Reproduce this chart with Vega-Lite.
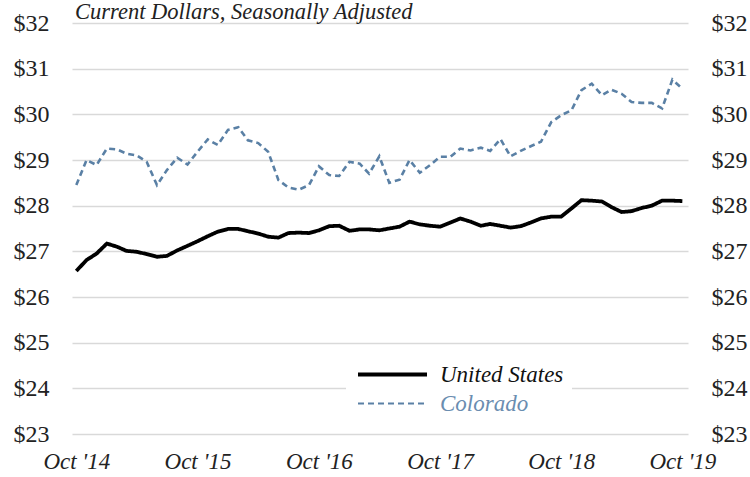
{
  "$schema": "https://vega.github.io/schema/vega-lite/v6.json",
  "width": 616,
  "height": 411,
  "autosize": {"type": "none"},
  "padding": {"left": 72, "top": 23, "right": 62, "bottom": 43},
  "background": "white",
  "title": {
    "text": "Current Dollars, Seasonally Adjusted",
    "anchor": "start",
    "frame": "group",
    "font": "Liberation Serif",
    "fontSize": 22.5,
    "fontStyle": "italic",
    "fontWeight": "normal",
    "color": "#222222",
    "baseline": "alphabetic",
    "offset": 0,
    "dx": 3,
    "dy": 30
  },
  "config": {
    "view": {"stroke": null},
    "axis": {
      "labelFont": "Liberation Serif",
      "labelColor": "#222222",
      "domain": false,
      "ticks": false,
      "title": null
    }
  },
  "data": {
    "values": [
      {"month": "2014-10-01", "United States": 26.57, "Colorado": 28.45},
      {"month": "2014-11-01", "United States": 26.81, "Colorado": 29.0},
      {"month": "2014-12-01", "United States": 26.95, "Colorado": 28.89},
      {"month": "2015-01-01", "United States": 27.17, "Colorado": 29.25},
      {"month": "2015-02-01", "United States": 27.10, "Colorado": 29.23},
      {"month": "2015-03-01", "United States": 27.01, "Colorado": 29.14},
      {"month": "2015-04-01", "United States": 26.99, "Colorado": 29.1},
      {"month": "2015-05-01", "United States": 26.94, "Colorado": 28.96},
      {"month": "2015-06-01", "United States": 26.88, "Colorado": 28.45},
      {"month": "2015-07-01", "United States": 26.90, "Colorado": 28.78},
      {"month": "2015-08-01", "United States": 27.02, "Colorado": 29.05},
      {"month": "2015-09-01", "United States": 27.12, "Colorado": 28.9},
      {"month": "2015-10-01", "United States": 27.22, "Colorado": 29.18},
      {"month": "2015-11-01", "United States": 27.33, "Colorado": 29.45},
      {"month": "2015-12-01", "United States": 27.43, "Colorado": 29.33},
      {"month": "2016-01-01", "United States": 27.49, "Colorado": 29.66},
      {"month": "2016-02-01", "United States": 27.49, "Colorado": 29.72},
      {"month": "2016-03-01", "United States": 27.44, "Colorado": 29.43},
      {"month": "2016-04-01", "United States": 27.39, "Colorado": 29.37},
      {"month": "2016-05-01", "United States": 27.32, "Colorado": 29.18},
      {"month": "2016-06-01", "United States": 27.30, "Colorado": 28.56},
      {"month": "2016-07-01", "United States": 27.40, "Colorado": 28.4},
      {"month": "2016-08-01", "United States": 27.41, "Colorado": 28.35},
      {"month": "2016-09-01", "United States": 27.40, "Colorado": 28.45},
      {"month": "2016-10-01", "United States": 27.46, "Colorado": 28.86},
      {"month": "2016-11-01", "United States": 27.55, "Colorado": 28.67},
      {"month": "2016-12-01", "United States": 27.56, "Colorado": 28.65},
      {"month": "2017-01-01", "United States": 27.45, "Colorado": 28.96},
      {"month": "2017-02-01", "United States": 27.48, "Colorado": 28.92},
      {"month": "2017-03-01", "United States": 27.48, "Colorado": 28.7},
      {"month": "2017-04-01", "United States": 27.46, "Colorado": 29.08},
      {"month": "2017-05-01", "United States": 27.50, "Colorado": 28.5},
      {"month": "2017-06-01", "United States": 27.54, "Colorado": 28.57},
      {"month": "2017-07-01", "United States": 27.65, "Colorado": 29.0},
      {"month": "2017-08-01", "United States": 27.59, "Colorado": 28.72},
      {"month": "2017-09-01", "United States": 27.56, "Colorado": 28.89},
      {"month": "2017-10-01", "United States": 27.54, "Colorado": 29.07},
      {"month": "2017-11-01", "United States": 27.63, "Colorado": 29.07},
      {"month": "2017-12-01", "United States": 27.72, "Colorado": 29.25},
      {"month": "2018-01-01", "United States": 27.65, "Colorado": 29.21},
      {"month": "2018-02-01", "United States": 27.56, "Colorado": 29.27},
      {"month": "2018-03-01", "United States": 27.60, "Colorado": 29.2},
      {"month": "2018-04-01", "United States": 27.56, "Colorado": 29.46},
      {"month": "2018-05-01", "United States": 27.52, "Colorado": 29.08},
      {"month": "2018-06-01", "United States": 27.55, "Colorado": 29.2},
      {"month": "2018-07-01", "United States": 27.63, "Colorado": 29.3},
      {"month": "2018-08-01", "United States": 27.72, "Colorado": 29.4},
      {"month": "2018-09-01", "United States": 27.76, "Colorado": 29.83},
      {"month": "2018-10-01", "United States": 27.76, "Colorado": 29.98},
      {"month": "2018-11-01", "United States": 27.94, "Colorado": 30.09},
      {"month": "2018-12-01", "United States": 28.12, "Colorado": 30.53},
      {"month": "2019-01-01", "United States": 28.11, "Colorado": 30.67},
      {"month": "2019-02-01", "United States": 28.09, "Colorado": 30.42},
      {"month": "2019-03-01", "United States": 27.97, "Colorado": 30.54},
      {"month": "2019-04-01", "United States": 27.86, "Colorado": 30.45},
      {"month": "2019-05-01", "United States": 27.88, "Colorado": 30.27},
      {"month": "2019-06-01", "United States": 27.95, "Colorado": 30.25},
      {"month": "2019-07-01", "United States": 28.00, "Colorado": 30.25},
      {"month": "2019-08-01", "United States": 28.11, "Colorado": 30.13},
      {"month": "2019-09-01", "United States": 28.11, "Colorado": 30.76},
      {"month": "2019-10-01", "United States": 28.10, "Colorado": 30.56}
    ]
  },
  "transform": [
    {"fold": ["United States", "Colorado"], "as": ["series", "wage"]}
  ],
  "encoding": {
    "x": {
      "field": "month",
      "type": "temporal",
      "scale": {
        "type": "utc",
        "domain": [
          {"year": 2014, "month": 9, "date": 18, "utc": true},
          {"year": 2019, "month": 10, "date": 18, "utc": true}
        ]
      },
      "axis": {
        "values": [
          {"year": 2014, "month": 10, "date": 1, "utc": true},
          {"year": 2015, "month": 10, "date": 1, "utc": true},
          {"year": 2016, "month": 10, "date": 1, "utc": true},
          {"year": 2017, "month": 10, "date": 1, "utc": true},
          {"year": 2018, "month": 10, "date": 1, "utc": true},
          {"year": 2019, "month": 10, "date": 1, "utc": true}
        ],
        "format": "%b '%y",
        "grid": false,
        "labelFontSize": 23,
        "labelFontStyle": "italic",
        "labelPadding": 16,
        "labelFlush": false,
        "labelOverlap": false,
        "labelBound": false
      }
    },
    "y": {
      "field": "wage",
      "type": "quantitative",
      "scale": {"domain": [23, 32], "nice": false, "zero": false}
    }
  },
  "layer": [
    {
      "mark": {"type": "line", "strokeJoin": "miter"},
      "encoding": {
        "y": {
          "field": "wage",
          "type": "quantitative",
          "axis": {
            "orient": "left",
            "values": [23, 24, 25, 26, 27, 28, 29, 30, 31, 32],
            "format": "$.0f",
            "labelFontSize": 24,
            "labelPadding": 23,
            "grid": true,
            "gridColor": "#d9d9d9",
            "gridWidth": 1.3
          }
        },
        "color": {
          "field": "series",
          "type": "nominal",
          "scale": {"domain": ["United States", "Colorado"], "range": ["#000000", "#5a80a5"]},
          "legend": {
            "orient": "none",
            "legendX": 274,
            "legendY": 332,
            "title": null,
            "fillColor": "white",
            "padding": 8,
            "symbolType": "stroke",
            "symbolSize": 4761,
            "symbolOffset": 27,
            "labelOffset": 36,
            "labelFont": "Liberation Serif",
            "labelFontSize": 23,
            "labelFontStyle": "italic",
            "rowPadding": 5,
            "symbolStrokeWidth": 3,
            "encode": {
              "labels": {"update": {"fill": {"signal": "datum.value === 'Colorado' ? '#6a8db0' : '#111111'"}}},
              "symbols": {"update": {"strokeWidth": {"signal": "datum.value === 'Colorado' ? 2.2 : 3.8"}}}
            }
          }
        },
        "strokeDash": {
          "field": "series",
          "type": "nominal",
          "scale": {"domain": ["United States", "Colorado"], "range": [[1, 0], [6, 4]]}
        },
        "strokeWidth": {
          "condition": {"test": "datum.series === 'Colorado'", "value": 2.6},
          "value": 3.8
        }
      }
    },
    {
      "mark": {"type": "line", "strokeOpacity": 0},
      "encoding": {
        "detail": {"field": "series", "type": "nominal"},
        "y": {
          "field": "wage",
          "type": "quantitative",
          "axis": {
            "orient": "right",
            "values": [23, 24, 25, 26, 27, 28, 29, 30, 31, 32],
            "format": "$.0f",
            "labelFontSize": 24,
            "labelPadding": 23,
            "grid": false
          }
        }
      }
    }
  ],
  "resolve": {"axis": {"y": "independent"}}
}
